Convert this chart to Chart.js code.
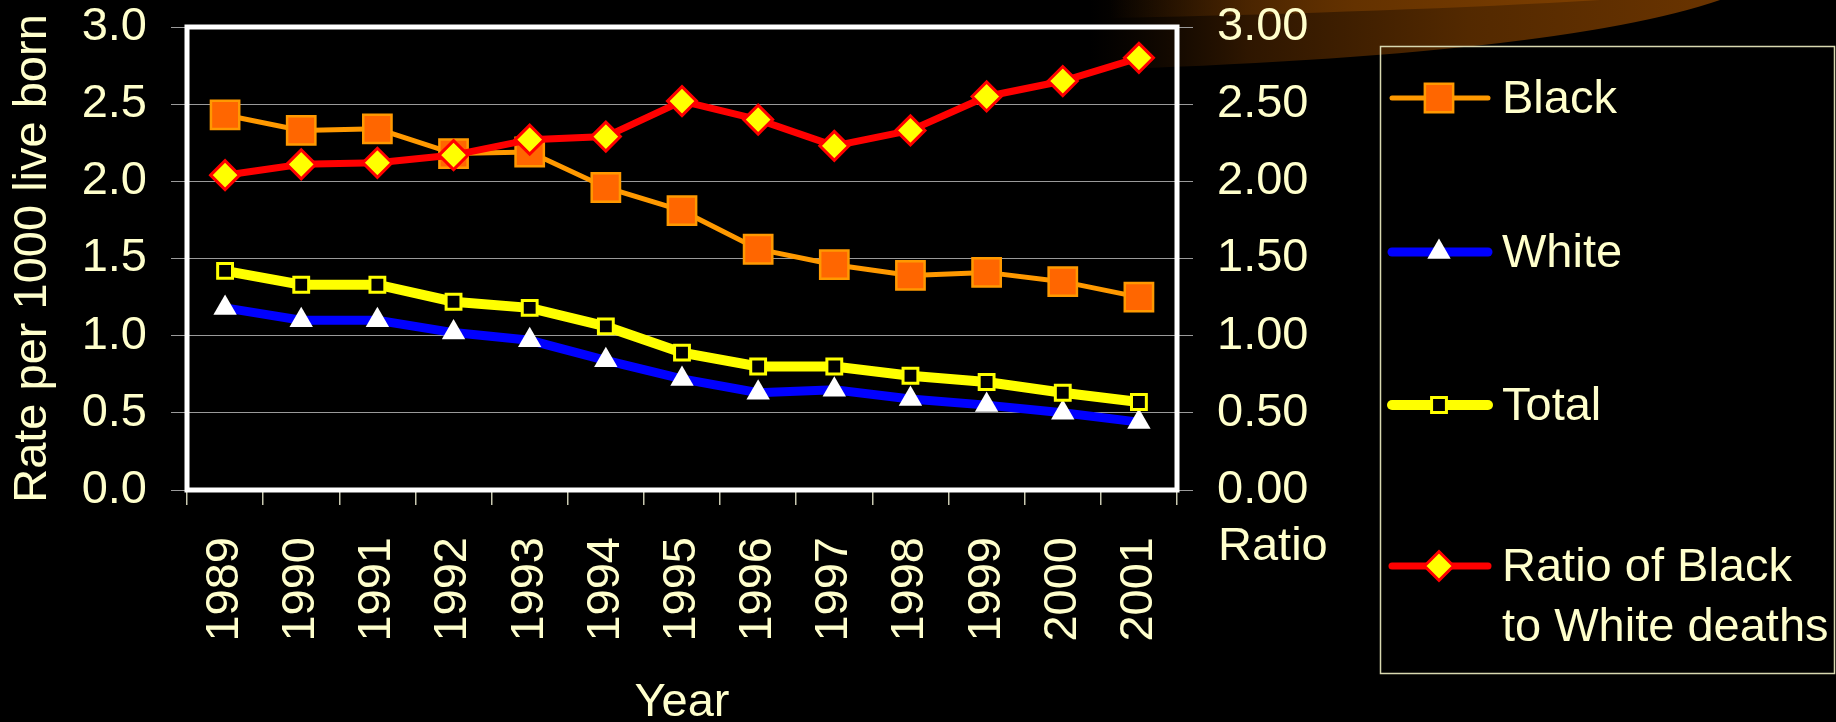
<!DOCTYPE html>
<html>
<head>
<meta charset="utf-8">
<script src="https://cdn.jsdelivr.net/npm/chart.js@4.4.1/dist/chart.umd.min.js"></script>
<style>
  html, body { margin: 0; padding: 0; background: #000; overflow: hidden; }
  #chartContainer { width: 1836px; height: 722px; position: relative; }
</style>
</head>
<body>
<div id="chartContainer"><canvas id="chartCanvas" width="1836" height="722"></canvas></div>
<script>
// data
const years = ["1989", "1990", "1991", "1992", "1993", "1994", "1995", "1996", "1997", "1998", "1999", "2000", "2001"];
const blackRates = [2.43, 2.33, 2.34, 2.18, 2.19, 1.96, 1.81, 1.56, 1.46, 1.39, 1.41, 1.35, 1.25];
const whiteRates = [1.18, 1.10, 1.10, 1.02, 0.97, 0.84, 0.72, 0.63, 0.65, 0.59, 0.55, 0.50, 0.44];
const totalRates = [1.42, 1.33, 1.33, 1.22, 1.18, 1.06, 0.89, 0.80, 0.80, 0.74, 0.70, 0.63, 0.57];
const ratioBlackWhite = [2.04, 2.11, 2.12, 2.17, 2.27, 2.29, 2.52, 2.40, 2.23, 2.33, 2.55, 2.65, 2.80];

const rateTickLabels = ["0.0", "0.5", "1.0", "1.5", "2.0", "2.5", "3.0"];
const ratioTickLabels = ["0.00", "0.50", "1.00", "1.50", "2.00", "2.50", "3.00"];
const legendLabels = [["Black"], ["White"], ["Total"], ["Ratio of Black", "to White deaths"]];

const textColor = "#FFFFCC";
const gridColor = "#9a9a9a";
const fontFamily = "Arial, 'Liberation Sans', sans-serif";

Chart.defaults.font.family = fontFamily;
Chart.defaults.color = textColor;

function drawMarker(ctx, style, x, y, r, fill, stroke, bw) {
    ctx.beginPath();
    if (style === "rect") {
        const s = r * Math.SQRT1_2;
        ctx.rect(x - s, y - s, 2 * s, 2 * s);
    } else if (style === "rectRot") {
        ctx.moveTo(x - r, y);
        ctx.lineTo(x, y - r);
        ctx.lineTo(x + r, y);
        ctx.lineTo(x, y + r);
        ctx.closePath();
    } else if (style === "triangle") {
        ctx.moveTo(x, y - r);
        ctx.lineTo(x + 0.866 * r, y + 0.5 * r);
        ctx.lineTo(x - 0.866 * r, y + 0.5 * r);
        ctx.closePath();
    }
    ctx.fillStyle = fill;
    ctx.fill();
    if (bw > 0) {
        ctx.lineWidth = bw;
        ctx.strokeStyle = stroke;
        ctx.stroke();
    }
}

// brown swoosh at the top right of the slide
const backdrop = {
    id: "backdrop",
    beforeDraw(chart) {
        const ctx = chart.ctx;
        ctx.save();
        ctx.fillStyle = "#000";
        ctx.fillRect(0, 0, chart.width, chart.height);

        let g = ctx.createLinearGradient(1090, 0, 1720, 0);
        g.addColorStop(0, "rgba(30,14,0,0)");
        g.addColorStop(0.25, "#2e1600");
        g.addColorStop(0.6, "#532900");
        g.addColorStop(1, "#6a3400");
        ctx.beginPath();
        ctx.moveTo(1090, 0);
        ctx.lineTo(1090, 70);
        ctx.quadraticCurveTo(1560, 55, 1720, 0);
        ctx.closePath();
        ctx.fillStyle = g;
        ctx.fill();

        g = ctx.createLinearGradient(1110, 0, 1600, 0);
        g.addColorStop(0, "rgba(90,45,0,0)");
        g.addColorStop(0.5, "#643200");
        g.addColorStop(1, "#7e3f00");
        ctx.beginPath();
        ctx.moveTo(1110, 0);
        ctx.lineTo(1110, 18);
        ctx.quadraticCurveTo(1400, 12, 1600, 0);
        ctx.closePath();
        ctx.fillStyle = g;
        ctx.fill();
        ctx.restore();
    }
};

// white frame round the plot area
const plotFrame = {
    id: "plotFrame",
    beforeDatasetsDraw(chart) {
        const {ctx, chartArea} = chart;
        ctx.save();
        ctx.strokeStyle = "#FFFFFF";
        ctx.lineWidth = 5;
        ctx.strokeRect(chartArea.left, chartArea.top, chartArea.right - chartArea.left, chartArea.bottom - chartArea.top);
        ctx.restore();
    }
};

// boxed legend on the right, plus the "Ratio" caption under the right axis
const sideLegend = {
    id: "sideLegend",
    afterDraw(chart) {
        const ctx = chart.ctx;
        ctx.save();
        ctx.strokeStyle = "#d8d8b0";
        ctx.lineWidth = 1.5;
        ctx.strokeRect(1380.5, 46.5, 454, 627);

        const rows = [98, 252, 405, 566];
        ctx.font = "47px " + fontFamily;
        ctx.textBaseline = "alphabetic";
        ctx.textAlign = "left";
        chart.data.datasets.forEach((ds, i) => {
            const y = rows[i];
            ctx.beginPath();
            ctx.moveTo(1392, y);
            ctx.lineTo(1488, y);
            ctx.lineWidth = ds.borderWidth;
            ctx.strokeStyle = ds.borderColor;
            ctx.lineCap = "round";
            ctx.stroke();
            drawMarker(ctx, ds.pointStyle, 1439, y, ds.pointRadius, ds.pointBackgroundColor, ds.pointBorderColor, ds.pointBorderWidth);
            ctx.fillStyle = textColor;
            legendLabels[i].forEach((line, k) => {
                ctx.fillText(line, 1502, y + 15 + k * 60);
            });
        });

        const right = chart.scales.y1;
        ctx.fillText("Ratio", right.left + 41, 560);
        ctx.restore();
    }
};

new Chart("chartCanvas", {
    type: "line",
    data: {
        labels: years,
        datasets: [{
            label: "Black",
            data: blackRates,
            yAxisID: "y",
            order: 1,
            borderColor: "#FF9900",
            borderWidth: 5,
            pointStyle: "rect",
            pointRadius: 20,
            pointBackgroundColor: "#FF6600",
            pointBorderColor: "#FF9900",
            pointBorderWidth: 2.5
        }, {
            label: "White",
            data: whiteRates,
            yAxisID: "y",
            order: 3,
            borderColor: "#0000FF",
            borderWidth: 9,
            pointStyle: "triangle",
            pointRadius: 13.5,
            pointBackgroundColor: "#FFFFFF",
            pointBorderColor: "#FFFFFF",
            pointBorderWidth: 0
        }, {
            label: "Total",
            data: totalRates,
            yAxisID: "y",
            order: 2,
            borderColor: "#FFFF00",
            borderWidth: 10,
            pointStyle: "rect",
            pointRadius: 10.5,
            pointBackgroundColor: "#000000",
            pointBorderColor: "#FFFF00",
            pointBorderWidth: 3
        }, {
            label: "Ratio of Black to White deaths",
            data: ratioBlackWhite,
            yAxisID: "y1",
            order: 0,
            borderColor: "#FF0000",
            borderWidth: 7,
            pointStyle: "rectRot",
            pointRadius: 14.5,
            pointBackgroundColor: "#FFFF00",
            pointBorderColor: "#FF0000",
            pointBorderWidth: 3
        }]
    },
    options: {
        responsive: false,
        animation: false,
        devicePixelRatio: 1,
        layout: { padding: { top: 27, left: 0, right: 0, bottom: 0 } },
        plugins: {
            legend: { display: false },
            tooltip: { enabled: false }
        },
        elements: { line: { tension: 0 } },
        scales: {
            x: {
                offset: true,
                afterFit: s => { s.height = 232; },
                border: { display: false },
                grid: { offset: true, drawOnChartArea: false, tickLength: 15, color: "#c8c8b0", lineWidth: 1.5 },
                ticks: {
                    autoSkip: false,
                    minRotation: 90,
                    maxRotation: 90,
                    padding: 32,
                    color: textColor,
                    font: { size: 47 }
                },
                title: {
                    display: true,
                    text: "Year",
                    color: textColor,
                    font: { size: 47, lineHeight: 0.8 },
                    padding: { top: 0, bottom: 0 }
                }
            },
            y: {
                position: "left",
                min: 0,
                max: 3,
                afterFit: s => { s.width = 187; s.paddingTop = 0; s.paddingBottom = 0; },
                border: { display: false },
                grid: { color: gridColor, lineWidth: 1, tickLength: 16 },
                ticks: {
                    stepSize: 0.5,
                    padding: 24,
                    color: textColor,
                    font: { size: 47, lineHeight: 1 },
                    callback: (v, i) => rateTickLabels[i]
                },
                title: {
                    display: true,
                    text: "Rate per 1000 live born",
                    color: textColor,
                    font: { size: 47, lineHeight: 1 },
                    padding: { top: 10, bottom: 0 }
                }
            },
            y1: {
                position: "right",
                min: 0,
                max: 3,
                afterFit: s => { s.width = 1836 - 1177; s.paddingTop = 0; s.paddingBottom = 0; },
                border: { display: false },
                grid: { drawOnChartArea: false, color: gridColor, lineWidth: 1, tickLength: 16 },
                ticks: {
                    stepSize: 0.5,
                    padding: 24,
                    color: textColor,
                    font: { size: 47, lineHeight: 1 },
                    callback: (v, i) => ratioTickLabels[i]
                }
            }
        }
    },
    plugins: [backdrop, plotFrame, sideLegend]
});
</script>
</body>
</html>
